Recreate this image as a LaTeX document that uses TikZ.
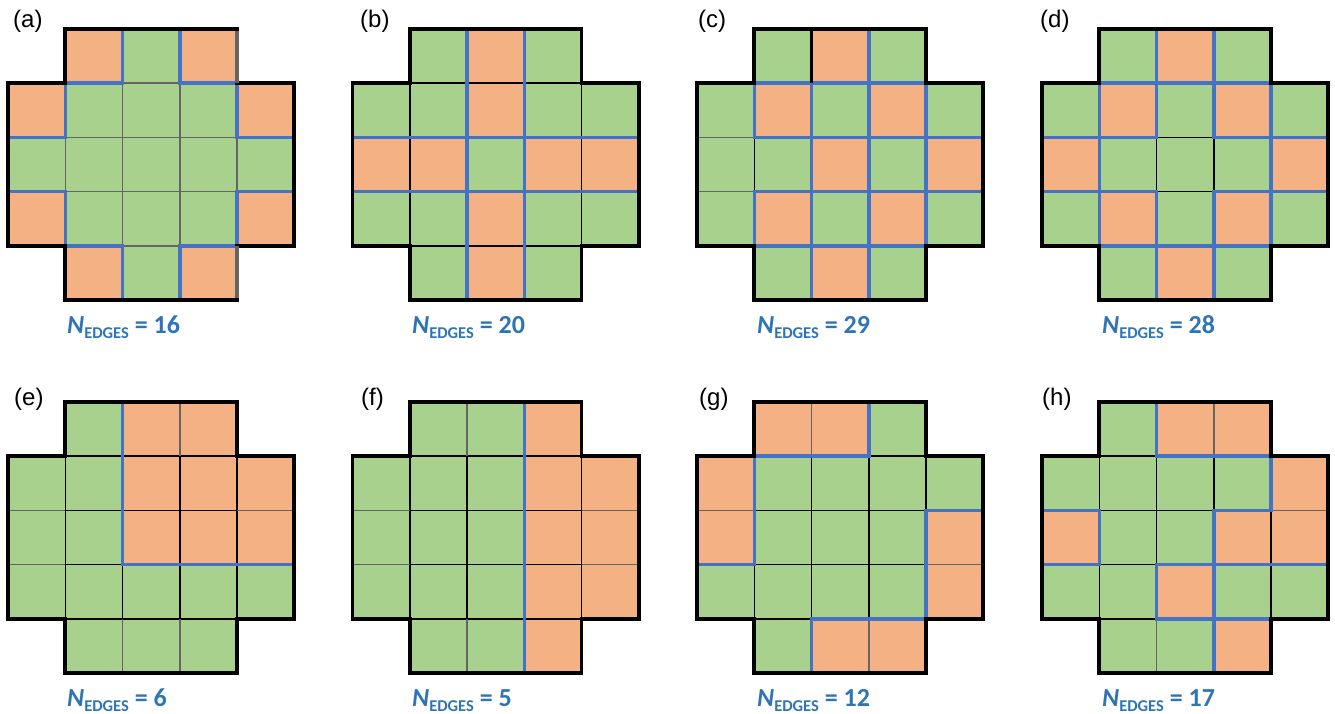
\documentclass[tikz,border=0pt]{standalone}
\usepackage{fontspec}
\newfontfamily\lblfont{Liberation Sans}
\newfontfamily\calfont{Carlito}
\definecolor{og}{RGB}{244,177,131}
\definecolor{gn}{RGB}{169,209,142}
\definecolor{bl}{RGB}{68,114,196}
\definecolor{gy}{RGB}{100,100,100}
\definecolor{tb}{RGB}{46,117,182}
\tikzset{
  thinline/.style={line width=1.5pt},
  stubline/.style={line width=1.5pt, draw=gy},
  blueline/.style={line width=3.5pt, draw=bl, line cap=rect},
  outline/.style={line width=3.8pt, draw=black},
  plabel/.style={anchor=base west, inner sep=0pt, font=\lblfont\fontsize{24}{29}\selectfont},
  nlabel/.style={anchor=base west, inner sep=0pt, text=tb, font=\calfont\bfseries\fontsize{26}{31}\selectfont},
  gridunit/.style={x=57.25pt, y=-54.2pt}
}
\newcommand\nedges[1]{\textit{N}\raisebox{-5pt}{\fontsize{16.5}{19}\selectfont EDGES} = #1}
% #1 x0, #2 y0, #3 orange cells, #4 blue paths, #5 thin colour, #6 extra
\newcommand\drawpanel[6]{%
\begin{scope}[shift={(#1,#2)}, gridunit]
  \fill[gn] (1,0)--(4,0)--(4,1)--(5,1)--(5,4)--(4,4)--(4,5)--(1,5)--(1,4)--(0,4)--(0,1)--(1,1)--cycle;
  \foreach \c/\r in {#3} \fill[og] (\c,\r) rectangle ++(1,1);
  \draw[thinline, draw=#5] (1,1)--(1,4) (2,0)--(2,5) (3,0)--(3,5) (4,1)--(4,4)
        (1,1)--(4,1) (0,2)--(5,2) (0,3)--(5,3) (1,4)--(4,4);
  \draw[stubline] (2,0)--(2,1) (3,0)--(3,1) (2,4)--(2,5) (3,4)--(3,5)
        (0,2)--(1,2) (0,3)--(1,3) (4,2)--(5,2) (4,3)--(5,3);
  \draw[blueline] #4;
  \draw[outline] (1,0)--(4,0)--(4,1)--(5,1)--(5,4)--(4,4)--(4,5)--(1,5)--(1,4)--(0,4)--(0,1)--(1,1)--cycle;
  #6
\end{scope}}
\begin{document}
\begin{tikzpicture}[x=1pt, y=-1pt]
\useasboundingbox (0,0) rectangle (1335,713);
% (a)
\drawpanel{8}{29}{1/0,3/0,0/1,4/1,0/3,4/3,1/4,3/4}
  {(2,0)--(2,1)--(1,1)--(1,2)--(0,2) (3,0)--(3,1)--(4,1)--(4,2)--(5,2)
   (0,3)--(1,3)--(1,4)--(2,4)--(2,5) (5,3)--(4,3)--(4,4)--(3,4)--(3,5)}{gy}
  {\draw[line width=3.5pt, draw=gy] (4,0.03)--(4,1) (4,4)--(4,4.97);}
% (b)
\drawpanel{352.5}{29}{2/0,2/1,0/2,1/2,3/2,4/2,2/3,2/4}
  {(2,0)--(2,5) (3,0)--(3,5) (0,2)--(5,2) (0,3)--(5,3)}{black}{}
% (c)
\drawpanel{697}{29}{2/0,1/1,3/1,2/2,4/2,1/3,3/3,2/4}
  {(1,1)--(1,2) (1,3)--(1,4) (2,1)--(2,5) (3,0)--(3,5) (4,1)--(4,4)
   (1,1)--(4,1) (1,2)--(5,2) (1,3)--(5,3) (1,4)--(4,4)}{black}
  {\draw[line width=3.8pt] (2,0)--(2,1);}
% (d)
\drawpanel{1042}{29}{2/0,1/1,3/1,0/2,4/2,1/3,3/3,2/4}
  {(1,1)--(1,4) (2,0)--(2,2) (2,3)--(2,5) (3,0)--(3,2) (3,3)--(3,5) (4,1)--(4,4)
   (1,1)--(4,1) (0,2)--(2,2) (3,2)--(5,2) (0,3)--(2,3) (3,3)--(5,3) (1,4)--(4,4)}{black}{}
% (e)
\drawpanel{8}{402}{2/0,3/0,2/1,3/1,4/1,2/2,3/2,4/2}
  {(2,0)--(2,3)--(5,3)}{black}{}
% (f)
\drawpanel{352.5}{402}{3/0,3/1,4/1,3/2,4/2,3/3,4/3,3/4}
  {(3,0)--(3,5)}{black}{}
% (g)
\drawpanel{697}{402}{1/0,2/0,0/1,0/2,4/2,4/3,2/4,3/4}
  {(3,0)--(3,1)--(1,1)--(1,3)--(0,3) (5,2)--(4,2)--(4,4)--(2,4)--(2,5)}{black}{}
% (h)
\drawpanel{1042}{402}{2/0,3/0,4/1,0/2,3/2,4/2,2/3,3/4}
  {(2,0)--(2,1)--(4,1)--(4,2)--(3,2)--(3,5) (2,3)--(5,3) (2,3)--(2,4)--(4,4)
   (0,2)--(1,2)--(1,3)--(0,3)}{black}{}
% panel letters
\node[plabel] (la) at (13,27) {(a)};
\node[plabel] (lb) at (360,27) {(b)};
\node[plabel] (lc) at (698,27) {(c)};
\node[plabel] (ld) at (1040,27) {(d)};
\node[plabel] (le) at (14,405) {(e)};
\node[plabel] (lf) at (361,405) {(f)};
\node[plabel] (lg) at (699,405) {(g)};
\node[plabel] (lh) at (1042,405) {(h)};
% edge counts
\node[nlabel] (na) at (67,333) {\nedges{16}};
\node[nlabel] (nb) at (412,333) {\nedges{20}};
\node[nlabel] (nc) at (757,333) {\nedges{29}};
\node[nlabel] (nd) at (1102,333) {\nedges{28}};
\node[nlabel] (ne) at (67,706) {\nedges{6}};
\node[nlabel] (nf) at (412,706) {\nedges{5}};
\node[nlabel] (ng) at (757,706) {\nedges{12}};
\node[nlabel] (nh) at (1102,706) {\nedges{17}};
\end{tikzpicture}
\end{document}
